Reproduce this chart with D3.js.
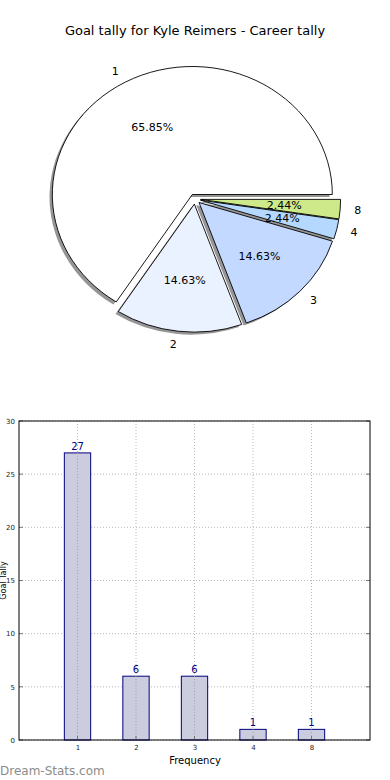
<!DOCTYPE html>
<html>
<head>
<meta charset="utf-8">
<script src="https://cdn.jsdelivr.net/npm/d3@7"></script>
<style>
  body { margin: 0; background: #fff; }
  svg { display: block; font-family: "DejaVu Sans", sans-serif; }
</style>
</head>
<body>
<div id="chart"></div>
<script>
const categories = ["1", "2", "3", "4", "8"];
const counts = [27, 6, 6, 1, 1];
const sliceColors = ["#ffffff", "#ebf2ff", "#c4d9ff", "#b5d8ff", "#cde98a"];
const yTicks = [0, 5, 10, 15, 20, 25, 30];

const W = 390, H = 780;
const svg = d3.select("#chart").append("svg").attr("width", W).attr("height", H);

svg.append("text")
    .attr("x", 195).attr("y", 35)
    .attr("text-anchor", "middle")
    .style("font-size", "13px")
    .text("Goal tally for Kyle Reimers - Career tally");

// ---- pie (matplotlib style: starts east, runs counter clockwise, elliptical) ----
const cx = 195, cy = 199, rx = 140, ry = 128, explode = 0.04;
const R = rx;
const total = d3.sum(counts);
const pie = d3.pie().sort(null).sortValues(null)
    .startAngle(Math.PI / 2).endAngle(Math.PI / 2 - 2 * Math.PI);
const arcs = pie(counts);
const arc = d3.arc().innerRadius(0).outerRadius(R);

const pieG = svg.append("g").attr("transform", `translate(${cx},${cy}) scale(1,${ry / rx})`);
const mid = d => (d.startAngle + d.endAngle) / 2;

// shadows first
pieG.append("g").attr("transform", `translate(${-0.02 * R},${0.02 * R})`)
    .selectAll("path").data(arcs).enter().append("path")
    .attr("transform", d => `translate(${Math.sin(mid(d)) * R * explode},${-Math.cos(mid(d)) * R * explode})`)
    .attr("d", arc)
    .attr("fill", "#7a7a7a")
    .attr("fill-opacity", 0.8);

pieG.append("g").selectAll("path").data(arcs).enter().append("path")
    .attr("transform", d => `translate(${Math.sin(mid(d)) * R * explode},${-Math.cos(mid(d)) * R * explode})`)
    .attr("d", arc)
    .attr("fill", (d, i) => sliceColors[i])
    .attr("stroke", "#000")
    .attr("stroke-width", 0.9)
    .attr("vector-effect", "non-scaling-stroke");

const labG = svg.append("g").style("font-size", "11px");
arcs.forEach((d, i) => {
    const a = mid(d);
    const sx = Math.sin(a), sy = -Math.cos(a);
    labG.append("text")
        .attr("x", cx + (1.1 + explode) * rx * sx)
        .attr("y", cy + (1.1 + explode) * ry * sy)
        .attr("dy", "0.35em")
        .attr("text-anchor", sx > 0 ? "start" : "end")
        .text(categories[i]);
    labG.append("text")
        .attr("x", cx + (0.6 + explode) * rx * sx)
        .attr("y", cy + (0.6 + explode) * ry * sy)
        .attr("dy", "0.35em")
        .attr("text-anchor", "middle")
        .text((d.value / total * 100).toFixed(2) + "%");
});

// ---- bar chart ----
const pLeft = 19, pRight = 370, pTop = 421, pBottom = 740;
const x = d3.scaleLinear().domain([-1, 5]).range([pLeft, pRight]);
const y = d3.scaleLinear().domain([0, 30]).range([pBottom, pTop]);
const barW = x(0.45) - x(0);

const bg = svg.append("g");

// grid
bg.append("g").selectAll("line").data(yTicks).enter().append("line")
    .attr("x1", pLeft).attr("x2", pRight)
    .attr("y1", d => y(d)).attr("y2", d => y(d))
    .attr("stroke", "#b8b8b8").attr("stroke-dasharray", "1,2");
bg.append("g").selectAll("line").data(categories).enter().append("line")
    .attr("x1", (d, i) => x(i)).attr("x2", (d, i) => x(i))
    .attr("y1", pTop).attr("y2", pBottom)
    .attr("stroke", "#b8b8b8").attr("stroke-dasharray", "1,2");

bg.append("g").selectAll("rect").data(counts).enter().append("rect")
    .attr("x", (d, i) => x(i) - barW / 2)
    .attr("y", d => y(d))
    .attr("width", barW)
    .attr("height", d => pBottom - y(d))
    .attr("fill", "#ccccdf")
    .attr("stroke", "#000080")
    .attr("stroke-width", 1);

// grid over bars
bg.append("g").selectAll("line").data(categories).enter().append("line")
    .attr("x1", (d, i) => x(i)).attr("x2", (d, i) => x(i))
    .attr("y1", (d, i) => y(counts[i])).attr("y2", pBottom)
    .attr("stroke", "#a0a0a0").attr("stroke-dasharray", "1,2");

bg.append("g").selectAll("text").data(counts).enter().append("text")
    .attr("x", (d, i) => x(i))
    .attr("y", d => y(d) - 3)
    .attr("text-anchor", "middle")
    .attr("fill", "#000080")
    .style("font-size", "10px")
    .text(d => d);

// axes
const yAxis = d3.axisLeft(y).tickValues(yTicks).tickSize(0).tickPadding(4);
const gy = bg.append("g").attr("transform", `translate(${pLeft},0)`).call(yAxis);
const xAxis = d3.axisBottom(x).tickValues(d3.range(categories.length)).tickFormat(i => categories[i]).tickSize(0).tickPadding(5);
const gx = bg.append("g").attr("transform", `translate(0,${pBottom})`).call(xAxis);
[gy, gx].forEach(g => {
    g.select(".domain").remove();
    g.selectAll("text").style("font-size", "7px").style("font-family", "DejaVu Sans, sans-serif").attr("fill", "#222");
});

// inward tick marks
bg.append("g").selectAll("line").data(yTicks).enter().append("line")
    .attr("x1", pLeft).attr("x2", pLeft + 4).attr("y1", d => y(d)).attr("y2", d => y(d))
    .attr("stroke", "#777");
bg.append("g").selectAll("line").data(yTicks).enter().append("line")
    .attr("x1", pRight - 4).attr("x2", pRight).attr("y1", d => y(d)).attr("y2", d => y(d))
    .attr("stroke", "#777");
bg.append("g").selectAll("line").data(categories).enter().append("line")
    .attr("x1", (d, i) => x(i)).attr("x2", (d, i) => x(i)).attr("y1", pBottom - 4).attr("y2", pBottom)
    .attr("stroke", "#777");

bg.append("rect")
    .attr("x", pLeft).attr("y", pTop)
    .attr("width", pRight - pLeft).attr("height", pBottom - pTop)
    .attr("fill", "none").attr("stroke", "#000").attr("stroke-width", 1);

bg.append("text")
    .attr("x", 195).attr("y", 764)
    .attr("text-anchor", "middle")
    .style("font-size", "10px")
    .text("Frequency");

bg.append("text")
    .attr("transform", `translate(6,${(pTop + pBottom) / 2}) rotate(-90)`)
    .attr("text-anchor", "middle")
    .style("font-size", "8px")
    .text("Goal Tally");

svg.append("text")
    .attr("x", 0).attr("y", 775)
    .attr("fill", "#8c8c8c")
    .style("font-size", "12px")
    .text("Dream-Stats.com");
</script>
</body>
</html>
